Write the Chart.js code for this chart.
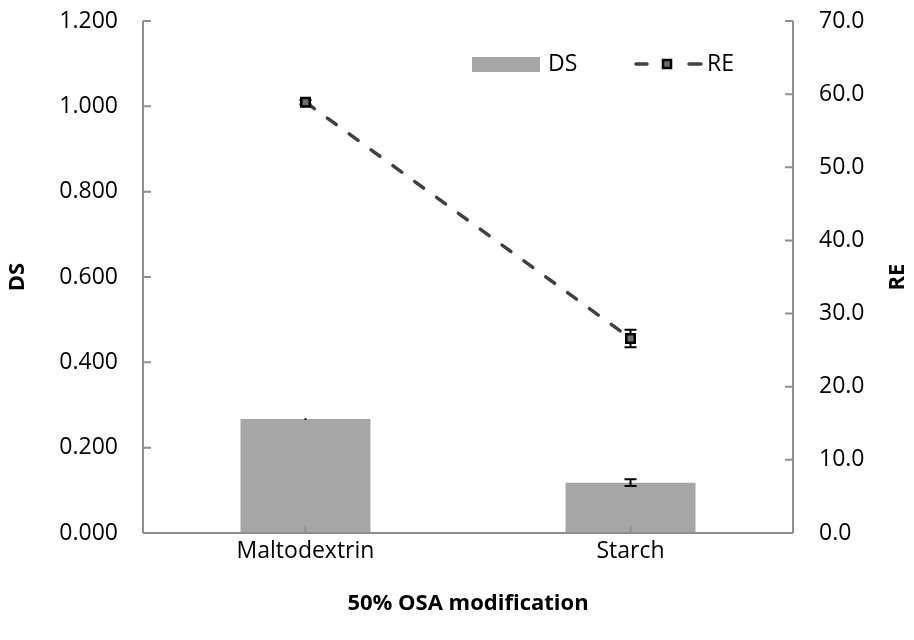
<!DOCTYPE html>
<html>
<head>
<meta charset="utf-8">
<script src="https://cdn.jsdelivr.net/npm/chart.js@4"></script>
<style>
  html, body { margin: 0; padding: 0; background: #ffffff; }
  #wrap { width: 914px; height: 640px; }
</style>
</head>
<body>
<div id="wrap"><canvas id="chart" width="914" height="640"></canvas></div>
<script>
// Degree of substitution (DS) and reaction efficiency (RE) after 50% OSA modification
const categories = ['Maltodextrin', 'Starch'];
const dsValues = [0.267, 0.118];
const dsErrors = [0.002, 0.008];
const reValues = [58.9, 26.6];
const reErrors = [0.3, 1.2];

const dsTicks = [0, 0.2, 0.4, 0.6, 0.8, 1.0, 1.2];
const reTicks = [0, 10, 20, 30, 40, 50, 60, 70];

const FONT = '"Open Sans", "Liberation Sans", sans-serif';
const AXIS_COLOR = '#8e8e8e';
const BAR_COLOR = '#a6a6a6';
const LINE_COLOR = '#404040';

function drawErrorBars(ctx, xScale, yScale, values, errors) {
  ctx.save();
  ctx.strokeStyle = '#000000';
  ctx.lineWidth = 2;
  values.forEach((v, i) => {
    const x = xScale.getPixelForValue(i);
    const yTop = yScale.getPixelForValue(v + errors[i]);
    const yBot = yScale.getPixelForValue(v - errors[i]);
    ctx.beginPath();
    ctx.moveTo(x, yTop);
    ctx.lineTo(x, yBot);
    if (yBot - yTop > 3) {
      ctx.moveTo(x - 6, yTop); ctx.lineTo(x + 6, yTop);
      ctx.moveTo(x - 6, yBot); ctx.lineTo(x + 6, yBot);
    }
    ctx.stroke();
  });
  ctx.restore();
}

const errorBarPlugin = {
  id: 'errorBars',
  afterDatasetDraw(chart, args) {
    const s = chart.scales;
    if (args.index === 0) drawErrorBars(chart.ctx, s.x, s.y, dsValues, dsErrors);
  },
  beforeDatasetDraw(chart, args) {
    const s = chart.scales;
    if (args.index === 1) drawErrorBars(chart.ctx, s.x, s.y1, reValues, reErrors);
  }
};

const framePlugin = {
  id: 'frame',
  afterDatasetsDraw(chart) {
    const ctx = chart.ctx;
    const a = chart.chartArea;
    const s = chart.scales;
    ctx.save();
    ctx.strokeStyle = AXIS_COLOR;
    ctx.lineWidth = 2;
    ctx.beginPath();
    // axis lines
    ctx.moveTo(a.left, a.top); ctx.lineTo(a.left, a.bottom);
    ctx.moveTo(a.right, a.top); ctx.lineTo(a.right, a.bottom);
    ctx.moveTo(a.left, a.bottom); ctx.lineTo(a.right, a.bottom);
    // inward tick marks
    s.y.ticks.forEach(t => {
      const y = s.y.getPixelForValue(t.value);
      ctx.moveTo(a.left, y); ctx.lineTo(a.left + 8, y);
    });
    s.y1.ticks.forEach(t => {
      const y = s.y1.getPixelForValue(t.value);
      ctx.moveTo(a.right, y); ctx.lineTo(a.right - 8, y);
    });
    categories.forEach((c, i) => {
      const x = s.x.getPixelForValue(i);
      ctx.moveTo(x, a.bottom); ctx.lineTo(x, a.bottom - 7);
    });
    ctx.stroke();
    ctx.restore();
  },
  afterDraw(chart) {
    const ctx = chart.ctx;
    const a = chart.chartArea;
    const midY = (a.top + a.bottom) / 2;
    ctx.save();
    ctx.fillStyle = '#000000';
    ctx.font = 'bold 22px ' + FONT;
    ctx.textAlign = 'center';
    ctx.textBaseline = 'middle';
    // axis titles
    ctx.save();
    ctx.translate(18, midY);
    ctx.rotate(-Math.PI / 2);
    ctx.fillText('DS', 0, 0);
    ctx.restore();
    ctx.save();
    ctx.translate(898, midY);
    ctx.rotate(-Math.PI / 2);
    ctx.fillText('RE', 0, 0);
    ctx.restore();
    ctx.fillText('50% OSA modification', (a.left + a.right) / 2, 604);

    // legend
    ctx.font = '23px ' + FONT;
    ctx.textAlign = 'left';
    ctx.fillStyle = BAR_COLOR;
    ctx.fillRect(472, 57, 68, 15);
    ctx.fillStyle = '#000000';
    ctx.fillText('DS', 548, 64);

    ctx.strokeStyle = LINE_COLOR;
    ctx.lineWidth = 3.5;
    ctx.lineCap = 'round';
    ctx.beginPath();
    ctx.moveTo(636, 64); ctx.lineTo(647, 64);
    ctx.moveTo(689, 64); ctx.lineTo(701, 64);
    ctx.stroke();
    ctx.fillStyle = '#707070';
    ctx.strokeStyle = '#000000';
    ctx.lineWidth = 2.5;
    ctx.fillRect(663, 60, 8, 8);
    ctx.strokeRect(663, 60, 8, 8);
    ctx.fillStyle = '#000000';
    ctx.fillText('RE', 707, 64);
    ctx.restore();
  }
};

// vertical axes: fixed width, no extra label overhang so the plot top sits at the layout padding
function fixVertical(width) {
  return function (scale) {
    scale.width = width;
    scale.paddingTop = 0;
    scale.paddingBottom = 0;
  };
}

new Chart(document.getElementById('chart'), {
  type: 'bar',
  data: {
    labels: categories,
    datasets: [
      {
        label: 'DS',
        data: dsValues,
        backgroundColor: BAR_COLOR,
        borderWidth: 0,
        barPercentage: 0.4,
        categoryPercentage: 1.0,
        yAxisID: 'y',
        order: 1
      },
      {
        type: 'line',
        label: 'RE',
        data: reValues,
        borderColor: LINE_COLOR,
        borderWidth: 3.5,
        borderDash: [11, 16],
        borderCapStyle: 'round',
        pointStyle: 'rect',
        pointRadius: 6,
        pointBorderWidth: 2.5,
        pointBackgroundColor: '#707070',
        pointBorderColor: '#000000',
        tension: 0,
        fill: false,
        yAxisID: 'y1',
        order: 0
      }
    ]
  },
  options: {
    responsive: false,
    devicePixelRatio: 1,
    animation: false,
    layout: { padding: { top: 21, left: 0, right: 0, bottom: 0 } },
    plugins: {
      legend: { display: false },
      tooltip: { enabled: false }
    },
    scales: {
      x: {
        type: 'category',
        offset: true,
        grid: { display: false, drawTicks: false },
        border: { display: false },
        ticks: { color: '#000000', font: { family: FONT, size: 23 }, padding: 5, maxRotation: 0 },
        afterFit(scale) { scale.height = 107; scale.paddingLeft = 0; scale.paddingRight = 0; }
      },
      y: {
        position: 'left',
        min: 0,
        max: 1.2,
        afterBuildTicks(scale) { scale.ticks = dsTicks.map(v => ({ value: v })); },
        grid: { display: false, drawTicks: false },
        border: { display: false },
        ticks: {
          color: '#000000',
          font: { family: FONT, size: 23 },
          padding: 25,
          callback: v => Number(v).toFixed(3)
        },
        afterFit: fixVertical(143)
      },
      y1: {
        position: 'right',
        min: 0,
        max: 70,
        afterBuildTicks(scale) { scale.ticks = reTicks.map(v => ({ value: v })); },
        grid: { display: false, drawTicks: false },
        border: { display: false },
        ticks: {
          color: '#000000',
          font: { family: FONT, size: 23 },
          padding: 26,
          callback: v => Number(v).toFixed(1)
        },
        afterFit: fixVertical(121)
      }
    }
  },
  plugins: [errorBarPlugin, framePlugin]
});
</script>
</body>
</html>
